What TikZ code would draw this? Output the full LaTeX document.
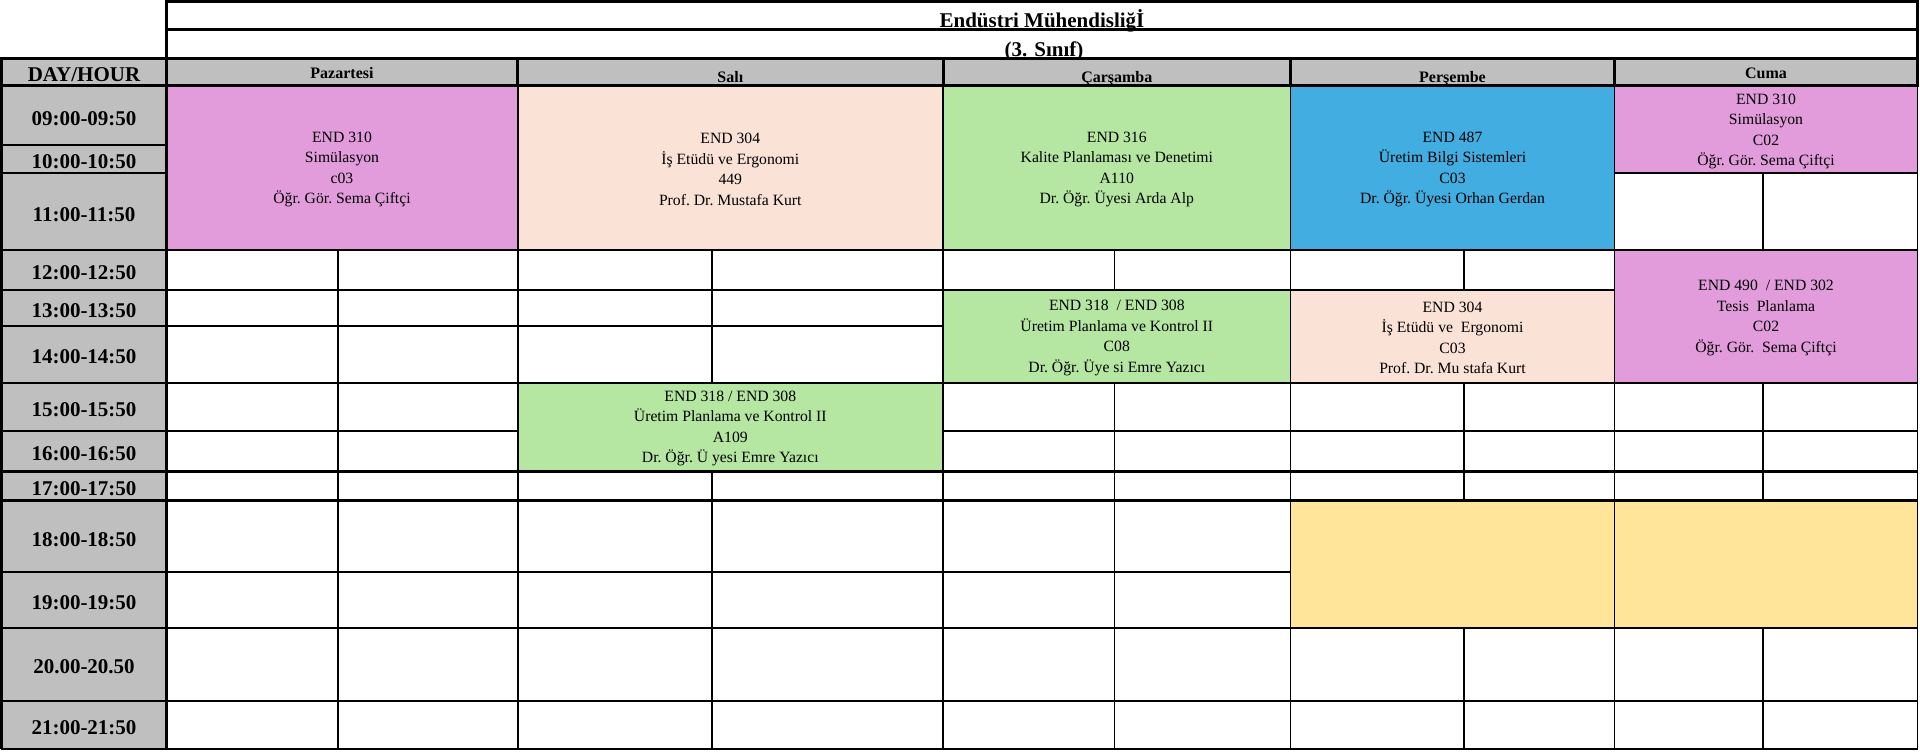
\documentclass[tikz,border=0pt]{standalone}
\usepackage{fontspec}
\setmainfont{Liberation Serif}
\definecolor{hdrgray}{RGB}{191,191,191}
\definecolor{pinkc}{RGB}{226,156,220}
\definecolor{peachc}{RGB}{251,226,214}
\definecolor{greenc}{RGB}{181,230,162}
\definecolor{bluec}{RGB}{66,173,224}
\definecolor{yellowc}{RGB}{255,229,153}
\newcommand\coursefont{\fontsize{15.7}{20.5}\selectfont\frenchspacing}
\newcommand\timefont{\fontsize{21}{25}\selectfont\bfseries}
\newcommand\dayfont{\fontsize{16}{19}\selectfont\bfseries}
\newcommand\cellrect[5]{\path[gridln,fill=#5] (#1,#2) rectangle (#3,#4);}
\newcommand\splitcells[4]{\foreach \t/\b in {#4}{\path[gridln,fill=white] (#1,\t) rectangle (#2,\b); \path[gridln,fill=white] (#2,\t) rectangle (#3,\b);}}
\begin{document}
\begin{tikzpicture}[x=1pt,y=-1pt,
  gridln/.style={draw=black,line width=1.8pt},
  heavy/.style={draw=black,line width=3pt},
  medium/.style={draw=black,line width=2.6pt},
  course/.style={align=center,font=\coursefont,inner sep=0pt},
  timelbl/.style={font=\timefont,inner sep=0pt},
  daylbl/.style={font=\dayfont,inner sep=0pt,anchor=base},
  titlelbl/.style={font=\timefont,inner sep=0pt,anchor=base}]
\useasboundingbox (0,0) rectangle (1920,752);
\fill[white] (0,0) rectangle (1920,752);

% title
\node[titlelbl] (title) at (1042,28) {Endüstri Mühendisliğİ};
\node[titlelbl] (subtitle) at (1044,56.8) {(3. Sınıf)};
\draw[heavy] (166.5,1.7) rectangle (1917.5,58.3);
\draw[heavy] (166.5,30) -- (1917.5,30);

% header row and time column backgrounds
\path[fill=hdrgray] (1.5,58.3) rectangle (1917.5,86);
\path[fill=hdrgray] (1.5,86) rectangle (166.5,749.3);
\foreach \t/\b in {86/145,145/173.3,173.3/250,250/290,290/325.7,325.7/383.3,383.3/430.7,430.7/471.7,471.7/500.7,500.7/572,572/627.7,627.7/701,701/749.3}
  {\path[gridln] (1.5,\t) rectangle (166.5,\b);}

% coloured course blocks
\cellrect{166.5}{86}{517.6}{250}{pinkc}
\cellrect{517.6}{86}{943}{250}{peachc}
\cellrect{943}{86}{1290.5}{250}{greenc}
\cellrect{1290.5}{86}{1614.5}{250}{bluec}
\cellrect{1614.5}{86}{1917.5}{173.3}{pinkc}
\cellrect{1614.5}{250}{1917.5}{383.3}{pinkc}
\cellrect{943}{290}{1290.5}{383.3}{greenc}
\cellrect{1290.5}{290}{1614.5}{383.3}{peachc}
\cellrect{517.6}{383.3}{943}{471.7}{greenc}
\cellrect{1290.5}{500.7}{1614.5}{627.7}{yellowc}
\cellrect{1614.5}{500.7}{1917.5}{627.7}{yellowc}

% empty split cells
\splitcells{166.5}{338}{517.6}{250/290,290/325.7,325.7/383.3,383.3/430.7,430.7/471.7,471.7/500.7,500.7/572,572/627.7,627.7/701,701/749.3}
\splitcells{517.6}{712}{943}{250/290,290/325.7,325.7/383.3,471.7/500.7,500.7/572,572/627.7,627.7/701,701/749.3}
\splitcells{943}{1114.5}{1290.5}{250/290,383.3/430.7,430.7/471.7,471.7/500.7,500.7/572,572/627.7,627.7/701,701/749.3}
\splitcells{1290.5}{1464}{1614.5}{250/290,383.3/430.7,430.7/471.7,471.7/500.7,627.7/701,701/749.3}
\splitcells{1614.5}{1763}{1917.5}{173.3/250,383.3/430.7,430.7/471.7,471.7/500.7,627.7/701,701/749.3}

% heavier rules
\draw[heavy] (1.5,58.3) rectangle (1917.5,86);
\foreach \x in {166.5,517.6,943,1290.5,1614.5} {\draw[heavy] (\x,58.3) -- (\x,86);}
\draw[heavy] (1.5,58.3) -- (1.5,749.3);
\draw[medium] (166.5,86) -- (166.5,749.3);
\foreach \yy in {250,471.7,500.7} {\draw[medium] (1.5,\yy) -- (1917.5,\yy);}
\draw[line width=2.3pt] (1.5,383.3) -- (1917.5,383.3);
\draw[line width=2.3pt] (1.5,749.3) -- (1917.5,749.3);

% header labels
\node[titlelbl] (dayhour) at (84,81.5) {DAY/HOUR};
\node[daylbl] (mon) at (342,78) {Pazartesi};
\node[daylbl] (tue) at (730.3,82) {Salı};
\node[daylbl] (wed) at (1116.8,82) {Çarşamba};
\node[daylbl] (thu) at (1452.5,82) {Perşembe};
\node[daylbl] (fri) at (1766,78) {Cuma};

% time labels
\foreach \i/\yy/\lbl in {1/119/09:00-09:50,2/162/10:00-10:50,3/215/11:00-11:50,4/273/12:00-12:50,5/310.5/13:00-13:50,6/357/14:00-14:50,7/409.5/15:00-15:50,8/454/16:00-16:50,9/488.5/17:00-17:50,10/539.5/18:00-18:50,11/602.5/19:00-19:50,12/667/20.00-20.50,13/728/21:00-21:50}
  {\node[timelbl] (time\i) at (84,\yy) {\lbl};}

% course texts
\node[course] (c1) at (342,169.5) {END 310\\Simülasyon\\c03\\Öğr. Gör. Sema Çiftçi};
\node[course] (c2) at (730.3,169.5) {END 304\\İş Etüdü ve Ergonomi\\449\\Prof. Dr. Mustafa Kurt};
\node[course] (c3) at (1116.8,169.5) {END 316\\Kalite Planlaması ve Denetimi\\A110\\Dr. Öğr. Üyesi Arda Alp};
\node[course] (c4) at (1452.5,169.5) {END 487\\Üretim Bilgi Sistemleri\\C03\\Dr. Öğr. Üyesi Orhan Gerdan};
\node[course] (c5) at (1766,131.5) {END 310\\Simülasyon\\C02\\Öğr. Gör. Sema Çiftçi};
\node[course] (c6) at (1766,318) {END 490\ \ / END 302\\Tesis\ \ Planlama\\C02\\Öğr. Gör.\ \ Sema Çiftçi};
\node[course] (c7) at (1116.8,338) {END 318\ \ / END 308\\Üretim Planlama ve Kontrol II\\C08\\Dr. Öğr. Üye si Emre Yazıcı};
\node[course] (c8) at (1452.5,338) {END 304\\İş Etüdü ve\ \ Ergonomi\\C03\\Prof. Dr. Mu stafa Kurt};
\node[course] (c9) at (730.3,428.5) {END 318 / END 308\\Üretim Planlama ve Kontrol II\\A109\\Dr. Öğr. Ü yesi Emre Yazıcı};
\end{tikzpicture}
\end{document}
